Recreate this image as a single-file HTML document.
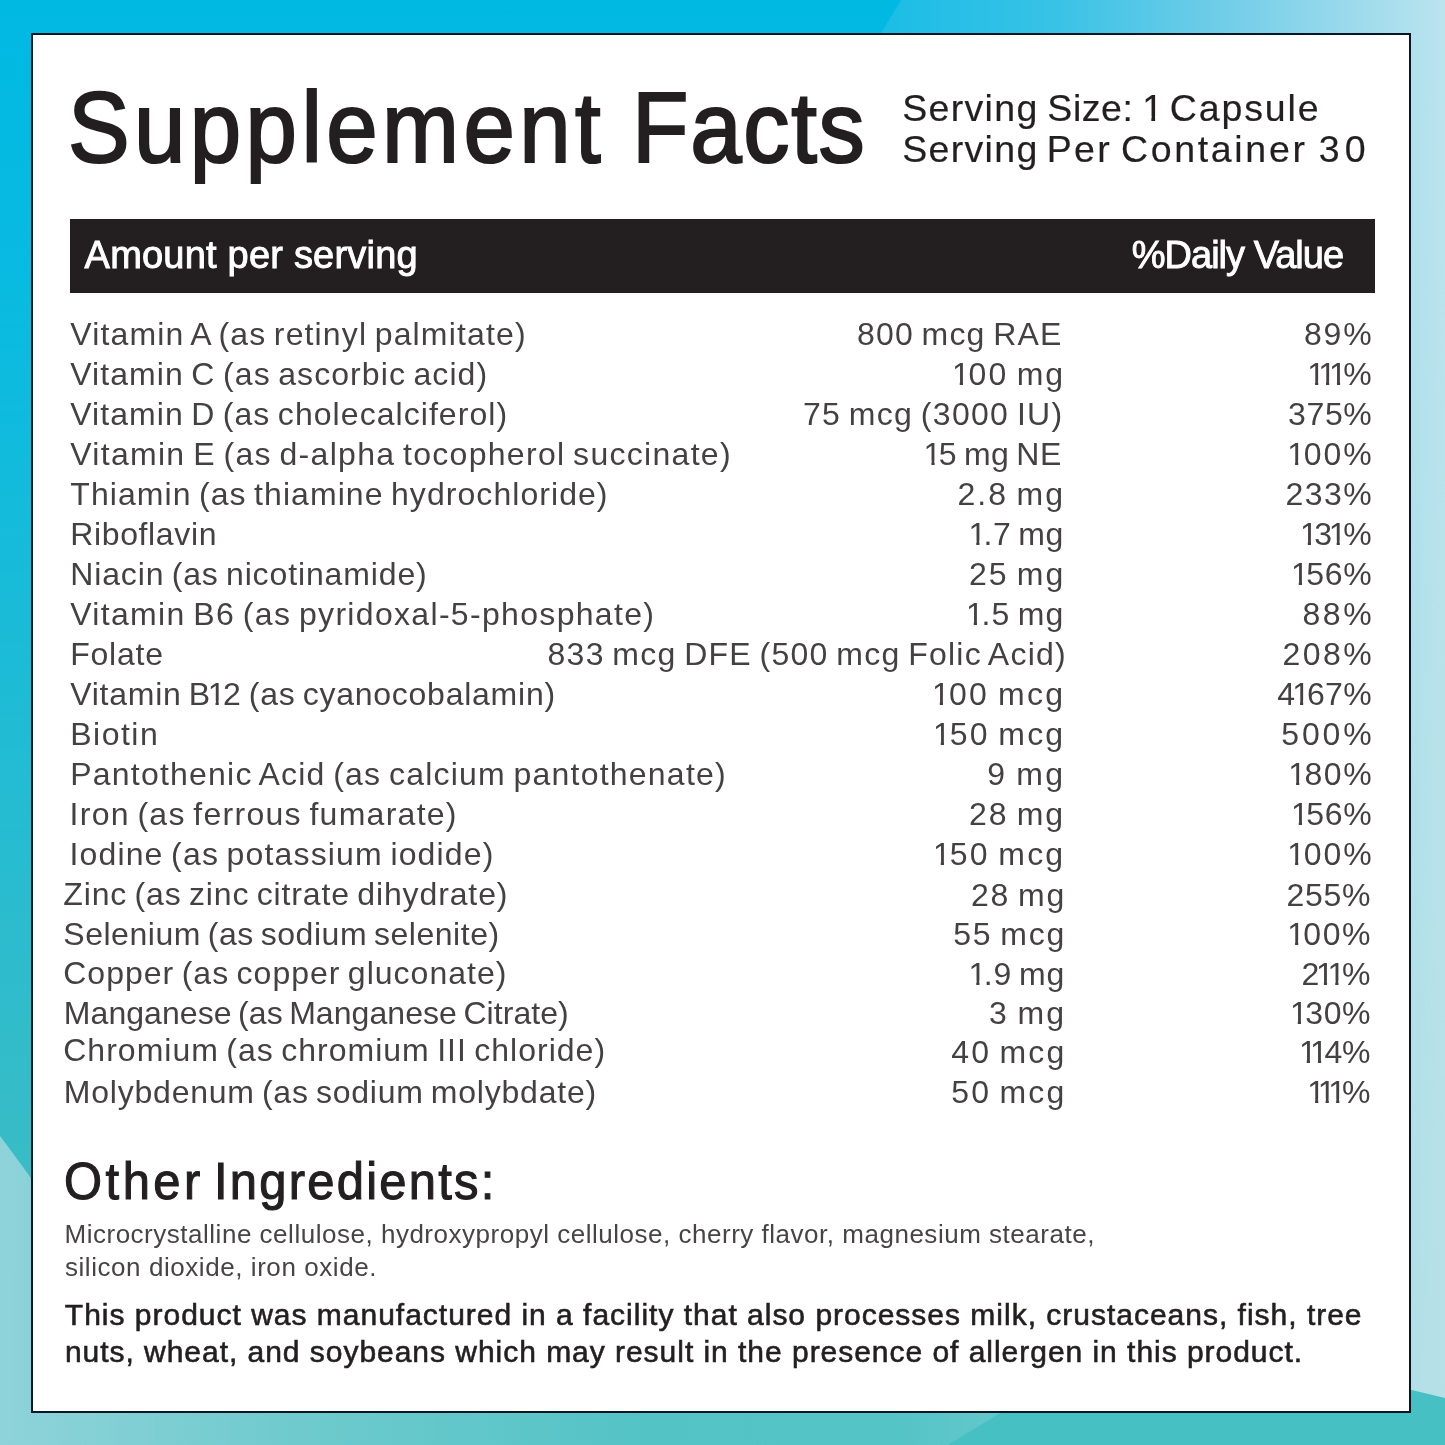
<!DOCTYPE html>
<html lang="en">
<head>
<meta charset="utf-8">
<title>Supplement Facts</title>
<style>
html,body{margin:0;padding:0;}
body{width:1445px;height:1445px;position:relative;overflow:hidden;background:#00b9e3;font-family:"Liberation Sans",sans-serif;}
#bg{position:absolute;left:0;top:0;width:1445px;height:1445px;display:block;}
#panel{position:absolute;left:31px;top:33px;width:1376px;height:1376px;border:2px solid #0a1622;background:#fff;}
#bar{position:absolute;left:70px;top:218.5px;width:1304.5px;height:74px;background:#231f20;}
main,header,section,p,h1,h2,div.row,div.serving,div.thead{margin:0;padding:0;position:static;font-size:0;line-height:0;font-weight:400;}
.t{position:absolute;margin:0;display:block;white-space:nowrap;font-family:"Liberation Sans",sans-serif;font-weight:400;}
.o{display:inline-block;margin:0 -0.1em;clip-path:polygon(0 0,100% 0,100% 0.8em,0.346em 0.8em,0.346em 100%,0.245em 100%,0.245em 0.8em,0 0.8em);}
</style>
</head>
<body>
<svg id="bg" width="1445" height="1445" viewBox="0 0 1445 1445">
<defs>
<linearGradient id="gl" x1="0" y1="0" x2="0" y2="1445" gradientUnits="userSpaceOnUse"><stop offset="0" stop-color="#00b9e3"/><stop offset="0.25" stop-color="#0cbbdf"/><stop offset="0.8" stop-color="#38bcc6"/><stop offset="1" stop-color="#3dbdc4"/></linearGradient>
<linearGradient id="gt" x1="885" y1="0" x2="1445" y2="0" gradientUnits="userSpaceOnUse"><stop offset="0" stop-color="#1cbde6"/><stop offset="0.3" stop-color="#38c2e6"/><stop offset="0.6" stop-color="#70cde8"/><stop offset="0.85" stop-color="#9fdbec"/><stop offset="1" stop-color="#bbe4ee"/></linearGradient>
<linearGradient id="gb" x1="0" y1="0" x2="1000" y2="0" gradientUnits="userSpaceOnUse"><stop offset="0" stop-color="#8ed3d9"/><stop offset="0.3" stop-color="#6ecacd"/><stop offset="0.65" stop-color="#53c3c6"/><stop offset="0.9" stop-color="#55c4c7"/><stop offset="1" stop-color="#62c8cb"/></linearGradient>
<linearGradient id="gv" x1="0" y1="0" x2="0" y2="1445" gradientUnits="userSpaceOnUse"><stop offset="0" stop-color="#b4dfe4" stop-opacity="0"/><stop offset="0.5" stop-color="#b4dfe4" stop-opacity="0.35"/><stop offset="1" stop-color="#b4dfe4" stop-opacity="0.75"/></linearGradient>
</defs>
<rect x="0" y="0" width="1445" height="1445" fill="url(#gl)"/>
<polygon points="901,0 1445,0 1445,60 865,60" fill="url(#gt)"/>
<rect x="1395" y="30" width="50" height="1415" fill="url(#gt)"/>
<rect x="1395" y="30" width="50" height="1415" fill="url(#gv)"/>
<path d="M0,1136 Q13,1153 33,1181 L33,1400 L1000,1400 L1000,1445 L0,1445 Z" fill="url(#gb)"/>
<path d="M948,1445 L1005,1410 L1395,1410 L1395,1386 L1445,1398 L1445,1445 Z" fill="#46c0c2"/>
</svg>

<div id="panel"></div>
<main>
<header>
<h1><span class="t" style="left:67.94px;top:67px;font-size:100.5px;line-height:121px;letter-spacing:4.745px;color:#231f20;-webkit-text-stroke:2.2px #231f20;transform:scaleX(0.92);transform-origin:0 0;">Supplement</span> <span class="t" style="left:631.86px;top:67px;font-size:100.5px;line-height:121px;letter-spacing:1.838px;color:#231f20;-webkit-text-stroke:2.2px #231f20;transform:scaleX(0.92);transform-origin:0 0;">Facts</span></h1>
<div class="serving">
<div><span class="t" style="left:902.13px;top:86px;font-size:37.5px;line-height:45px;letter-spacing:1.335px;color:#231f20;-webkit-text-stroke:0.2px #231f20;">Serving</span> <span class="t" style="left:1047.33px;top:86px;font-size:37.5px;line-height:45px;letter-spacing:0.541px;color:#231f20;-webkit-text-stroke:0.2px #231f20;">Size:</span> <span class="t" style="left:1145.90px;top:86px;font-size:37.5px;line-height:45px;letter-spacing:0.500px;color:#231f20;-webkit-text-stroke:0.2px #231f20;"><span class="o">1</span></span> <span class="t" style="left:1169.87px;top:86px;font-size:37.5px;line-height:45px;letter-spacing:1.862px;color:#231f20;-webkit-text-stroke:0.2px #231f20;">Capsule</span></div>
<div><span class="t" style="left:902.13px;top:127px;font-size:37.5px;line-height:45px;letter-spacing:1.335px;color:#231f20;-webkit-text-stroke:0.2px #231f20;">Serving</span> <span class="t" style="left:1046.75px;top:127px;font-size:37.5px;line-height:45px;letter-spacing:2.307px;color:#231f20;-webkit-text-stroke:0.2px #231f20;">Per</span> <span class="t" style="left:1120.90px;top:127px;font-size:37.5px;line-height:45px;letter-spacing:2.679px;color:#231f20;-webkit-text-stroke:0.2px #231f20;">Container</span> <span class="t" style="left:1318.69px;top:127px;font-size:37.5px;line-height:45px;letter-spacing:5.186px;color:#231f20;-webkit-text-stroke:0.2px #231f20;">30</span></div>
</div>
</header>
<section class="facts">
<div id="bar"></div>
<div class="thead">
<div><span class="t" style="left:84.58px;top:232px;font-size:38px;line-height:46px;letter-spacing:0.212px;color:#ffffff;-webkit-text-stroke:0.9px #ffffff;">Amount per serving</span></div>
<div><span class="t" style="left:1131.71px;top:232px;font-size:38px;line-height:46px;letter-spacing:-0.978px;color:#ffffff;-webkit-text-stroke:0.9px #ffffff;">%Daily Value</span></div>
</div>
<div class="row">
<span class="t" style="left:70.24px;top:315px;font-size:32px;line-height:38px;letter-spacing:1.145px;color:#454142;word-spacing:-2.5px;">Vitamin A (as retinyl palmitate)</span>
<span class="t" style="left:856.88px;top:315px;font-size:32px;line-height:38px;letter-spacing:1.217px;color:#454142;word-spacing:-2.5px;">800 mcg RAE</span>
<span class="t" style="left:1303.88px;top:315px;font-size:32px;line-height:38px;letter-spacing:1.906px;color:#454142;word-spacing:-2.5px;">89%</span>
</div>
<div class="row">
<span class="t" style="left:70.24px;top:355px;font-size:32px;line-height:38px;letter-spacing:1.078px;color:#454142;word-spacing:-2.5px;">Vitamin C (as ascorbic acid)</span>
<span class="t" style="left:955.10px;top:355px;font-size:32px;line-height:38px;letter-spacing:2.032px;color:#454142;word-spacing:-2.5px;"><span class="o">1</span>00 mg</span>
<span class="t" style="left:1310.42px;top:355px;font-size:32px;line-height:38px;letter-spacing:-0.492px;color:#454142;word-spacing:-2.5px;"><span class="o">1</span><span class="o">1</span><span class="o">1</span>%</span>
</div>
<div class="row">
<span class="t" style="left:70.24px;top:395px;font-size:32px;line-height:38px;letter-spacing:1.055px;color:#454142;word-spacing:-2.5px;">Vitamin D (as cholecalciferol)</span>
<span class="t" style="left:802.95px;top:395px;font-size:32px;line-height:38px;letter-spacing:1.299px;color:#454142;word-spacing:-2.5px;">75 mcg (3000 IU)</span>
<span class="t" style="left:1288.00px;top:395px;font-size:32px;line-height:38px;letter-spacing:0.649px;color:#454142;word-spacing:-2.5px;">375%</span>
</div>
<div class="row">
<span class="t" style="left:70.24px;top:435px;font-size:32px;line-height:38px;letter-spacing:1.297px;color:#454142;word-spacing:-2.5px;">Vitamin E (as d-alpha tocopherol succinate)</span>
<span class="t" style="left:926.76px;top:435px;font-size:32px;line-height:38px;letter-spacing:0.512px;color:#454142;word-spacing:-2.5px;"><span class="o">1</span>5 mg NE</span>
<span class="t" style="left:1290.42px;top:435px;font-size:32px;line-height:38px;letter-spacing:1.924px;color:#454142;word-spacing:-2.5px;"><span class="o">1</span>00%</span>
</div>
<div class="row">
<span class="t" style="left:70.30px;top:475px;font-size:32px;line-height:38px;letter-spacing:1.061px;color:#454142;word-spacing:-2.5px;">Thiamin (as thiamine hydrochloride)</span>
<span class="t" style="left:957.41px;top:475px;font-size:32px;line-height:38px;letter-spacing:2.069px;color:#454142;word-spacing:-2.5px;">2.8 mg</span>
<span class="t" style="left:1285.41px;top:475px;font-size:32px;line-height:38px;letter-spacing:1.461px;color:#454142;word-spacing:-2.5px;">233%</span>
</div>
<div class="row">
<span class="t" style="left:70.21px;top:515px;font-size:32px;line-height:38px;letter-spacing:0.639px;color:#454142;word-spacing:-2.5px;">Riboflavin</span>
<span class="t" style="left:971.61px;top:515px;font-size:32px;line-height:38px;letter-spacing:0.529px;color:#454142;word-spacing:-2.5px;"><span class="o">1</span>.7 mg</span>
<span class="t" style="left:1303.10px;top:515px;font-size:32px;line-height:38px;letter-spacing:-0.184px;color:#454142;word-spacing:-2.5px;"><span class="o">1</span>3<span class="o">1</span>%</span>
</div>
<div class="row">
<span class="t" style="left:70.21px;top:555px;font-size:32px;line-height:38px;letter-spacing:0.873px;color:#454142;word-spacing:-2.5px;">Niacin (as nicotinamide)</span>
<span class="t" style="left:968.92px;top:555px;font-size:32px;line-height:38px;letter-spacing:1.959px;color:#454142;word-spacing:-2.5px;">25 mg</span>
<span class="t" style="left:1294.10px;top:555px;font-size:32px;line-height:38px;letter-spacing:0.733px;color:#454142;word-spacing:-2.5px;"><span class="o">1</span>56%</span>
</div>
<div class="row">
<span class="t" style="left:70.24px;top:595px;font-size:32px;line-height:38px;letter-spacing:1.321px;color:#454142;word-spacing:-2.5px;">Vitamin B6 (as pyridoxal-5-phosphate)</span>
<span class="t" style="left:969.10px;top:595px;font-size:32px;line-height:38px;letter-spacing:1.031px;color:#454142;word-spacing:-2.5px;"><span class="o">1</span>.5 mg</span>
<span class="t" style="left:1302.57px;top:595px;font-size:32px;line-height:38px;letter-spacing:2.489px;color:#454142;word-spacing:-2.5px;">88%</span>
</div>
<div class="row">
<span class="t" style="left:70.21px;top:635px;font-size:32px;line-height:38px;letter-spacing:0.787px;color:#454142;word-spacing:-2.5px;">Folate</span>
<span class="t" style="left:547.57px;top:635px;font-size:32px;line-height:38px;letter-spacing:1.251px;color:#454142;word-spacing:-2.5px;">833 mcg DFE (500 mcg Folic Acid)</span>
<span class="t" style="left:1282.41px;top:635px;font-size:32px;line-height:38px;letter-spacing:2.461px;color:#454142;word-spacing:-2.5px;">208%</span>
</div>
<div class="row">
<span class="t" style="left:70.24px;top:675px;font-size:32px;line-height:38px;letter-spacing:0.754px;color:#454142;word-spacing:-2.5px;">Vitamin B<span class="o">1</span>2 (as cyanocobalamin)</span>
<span class="t" style="left:935.10px;top:675px;font-size:32px;line-height:38px;letter-spacing:2.360px;color:#454142;word-spacing:-2.5px;"><span class="o">1</span>00 mcg</span>
<span class="t" style="left:1277.28px;top:675px;font-size:32px;line-height:38px;letter-spacing:0.262px;color:#454142;word-spacing:-2.5px;">4<span class="o">1</span>67%</span>
</div>
<div class="row">
<span class="t" style="left:70.21px;top:715px;font-size:32px;line-height:38px;letter-spacing:1.490px;color:#454142;word-spacing:-2.5px;">Biotin</span>
<span class="t" style="left:936.10px;top:715px;font-size:32px;line-height:38px;letter-spacing:2.193px;color:#454142;word-spacing:-2.5px;"><span class="o">1</span>50 mcg</span>
<span class="t" style="left:1281.32px;top:715px;font-size:32px;line-height:38px;letter-spacing:2.823px;color:#454142;word-spacing:-2.5px;">500%</span>
</div>
<div class="row">
<span class="t" style="left:70.21px;top:755px;font-size:32px;line-height:38px;letter-spacing:1.219px;color:#454142;word-spacing:-2.5px;">Pantothenic Acid (as calcium pantothenate)</span>
<span class="t" style="left:987.32px;top:755px;font-size:32px;line-height:38px;letter-spacing:2.396px;color:#454142;word-spacing:-2.5px;">9 mg</span>
<span class="t" style="left:1291.42px;top:755px;font-size:32px;line-height:38px;letter-spacing:1.591px;color:#454142;word-spacing:-2.5px;"><span class="o">1</span>80%</span>
</div>
<div class="row">
<span class="t" style="left:69.58px;top:795px;font-size:32px;line-height:38px;letter-spacing:1.266px;color:#454142;word-spacing:-2.5px;">Iron (as ferrous fumarate)</span>
<span class="t" style="left:969.11px;top:795px;font-size:32px;line-height:38px;letter-spacing:1.874px;color:#454142;word-spacing:-2.5px;">28 mg</span>
<span class="t" style="left:1294.10px;top:795px;font-size:32px;line-height:38px;letter-spacing:0.733px;color:#454142;word-spacing:-2.5px;"><span class="o">1</span>56%</span>
</div>
<div class="row">
<span class="t" style="left:69.43px;top:835px;font-size:32px;line-height:38px;letter-spacing:1.158px;color:#454142;word-spacing:-2.5px;">Iodine (as potassium iodide)</span>
<span class="t" style="left:936.10px;top:835px;font-size:32px;line-height:38px;letter-spacing:2.193px;color:#454142;word-spacing:-2.5px;"><span class="o">1</span>50 mcg</span>
<span class="t" style="left:1290.42px;top:835px;font-size:32px;line-height:38px;letter-spacing:1.924px;color:#454142;word-spacing:-2.5px;"><span class="o">1</span>00%</span>
</div>
<div class="row">
<span class="t" style="left:63.28px;top:875px;font-size:32px;line-height:38px;letter-spacing:0.884px;color:#454142;word-spacing:-2.5px;">Zinc (as zinc citrate dihydrate)</span>
<span class="t" style="left:970.92px;top:876px;font-size:32px;line-height:38px;letter-spacing:1.709px;color:#454142;word-spacing:-2.5px;">28 mg</span>
<span class="t" style="left:1286.41px;top:876px;font-size:32px;line-height:38px;letter-spacing:0.726px;color:#454142;word-spacing:-2.5px;">255%</span>
</div>
<div class="row">
<span class="t" style="left:63.31px;top:915px;font-size:32px;line-height:38px;letter-spacing:0.525px;color:#454142;word-spacing:-2.5px;">Selenium (as sodium selenite)</span>
<span class="t" style="left:953.32px;top:915px;font-size:32px;line-height:38px;letter-spacing:1.686px;color:#454142;word-spacing:-2.5px;">55 mcg</span>
<span class="t" style="left:1290.42px;top:915px;font-size:32px;line-height:38px;letter-spacing:1.522px;color:#454142;word-spacing:-2.5px;"><span class="o">1</span>00%</span>
</div>
<div class="row">
<span class="t" style="left:63.26px;top:954px;font-size:32px;line-height:38px;letter-spacing:1.011px;color:#454142;word-spacing:-2.5px;">Copper (as copper gluconate)</span>
<span class="t" style="left:971.61px;top:955px;font-size:32px;line-height:38px;letter-spacing:0.729px;color:#454142;word-spacing:-2.5px;"><span class="o">1</span>.9 mg</span>
<span class="t" style="left:1301.41px;top:955px;font-size:32px;line-height:38px;letter-spacing:-0.023px;color:#454142;word-spacing:-2.5px;">2<span class="o">1</span><span class="o">1</span>%</span>
</div>
<div class="row">
<span class="t" style="left:63.84px;top:994px;font-size:32px;line-height:38px;letter-spacing:0.061px;color:#454142;word-spacing:-2.5px;">Manganese (as Manganese Citrate)</span>
<span class="t" style="left:989.03px;top:994px;font-size:32px;line-height:38px;letter-spacing:2.158px;color:#454142;word-spacing:-2.5px;">3 mg</span>
<span class="t" style="left:1293.10px;top:994px;font-size:32px;line-height:38px;letter-spacing:0.664px;color:#454142;word-spacing:-2.5px;"><span class="o">1</span>30%</span>
</div>
<div class="row">
<span class="t" style="left:63.26px;top:1031px;font-size:32px;line-height:38px;letter-spacing:1.010px;color:#454142;word-spacing:-2.5px;">Chromium (as chromium III chloride)</span>
<span class="t" style="left:951.28px;top:1033px;font-size:32px;line-height:38px;letter-spacing:2.095px;color:#454142;word-spacing:-2.5px;">40 mcg</span>
<span class="t" style="left:1302.10px;top:1033px;font-size:32px;line-height:38px;letter-spacing:-0.253px;color:#454142;word-spacing:-2.5px;"><span class="o">1</span><span class="o">1</span>4%</span>
</div>
<div class="row">
<span class="t" style="left:63.84px;top:1073px;font-size:32px;line-height:38px;letter-spacing:0.774px;color:#454142;word-spacing:-2.5px;">Molybdenum (as sodium molybdate)</span>
<span class="t" style="left:951.32px;top:1073px;font-size:32px;line-height:38px;letter-spacing:2.086px;color:#454142;word-spacing:-2.5px;">50 mcg</span>
<span class="t" style="left:1310.42px;top:1073px;font-size:32px;line-height:38px;letter-spacing:-0.894px;color:#454142;word-spacing:-2.5px;"><span class="o">1</span><span class="o">1</span><span class="o">1</span>%</span>
</div>
</section>
<section class="other">
<h2><span class="t" style="left:64.17px;top:1150px;font-size:51.5px;line-height:62px;letter-spacing:3.690px;color:#231f20;-webkit-text-stroke:1.1px #231f20;transform:scaleX(0.95);transform-origin:0 0;">Other</span> <span class="t" style="left:214.20px;top:1150px;font-size:51.5px;line-height:62px;letter-spacing:2.357px;color:#231f20;-webkit-text-stroke:1.1px #231f20;transform:scaleX(0.95);transform-origin:0 0;">Ingredients:</span></h2>
<p>
<span><span class="t" style="left:64.48px;top:1219px;font-size:26px;line-height:31px;letter-spacing:0.516px;color:#484445;">Microcrystalline cellulose, hydroxypropyl cellulose, cherry flavor, magnesium stearate,</span></span>
<span><span class="t" style="left:64.90px;top:1252px;font-size:26px;line-height:31px;letter-spacing:0.565px;color:#484445;">silicon dioxide, iron oxide.</span></span>
</p>
<p>
<span><span class="t" style="left:64.87px;top:1297px;font-size:30px;line-height:36px;letter-spacing:0.991px;color:#231f20;-webkit-text-stroke:0.6px #231f20;">This product was manufactured in a facility that also processes milk, crustaceans, fish, tree</span></span>
<span><span class="t" style="left:64.89px;top:1334px;font-size:30px;line-height:36px;letter-spacing:0.968px;color:#231f20;-webkit-text-stroke:0.6px #231f20;">nuts, wheat, and soybeans which may result in the presence of allergen in this product.</span></span>
</p>
</section>
</main>
</body>
</html>
